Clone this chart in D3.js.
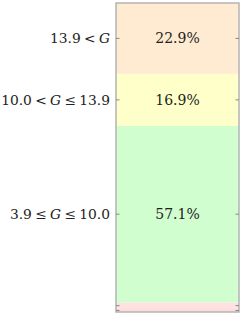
<!DOCTYPE html>
<html>
<head>
<meta charset="utf-8">
<script src="https://cdn.jsdelivr.net/npm/d3@7"></script>
<style>
  body { margin: 0; background: #fff; }
  svg text { font-family: "DejaVu Serif", "Liberation Serif", serif; fill: #222; }
</style>
</head>
<body>
<svg id="chart" width="240" height="318"></svg>
<script>
// bottom to top
var categories = ["G < 3.0", "3.0 ≤ G < 3.9", "3.9 ≤ G ≤ 10.0", "10.0 < G ≤ 13.9", "13.9 < G"];
var labels = [null, null, ["3.9", "≤", "G", "≤", "10.0"], ["10.0", "<", "G", "≤", "13.9"], ["13.9", "<", "G"]];
var shares = [1.0, 2.1, 57.1, 16.9, 22.9];
var colors = ["#ffdcdc", "#ffe1e1", "#d1fecf", "#ffffc9", "#ffebd1"];

var svg = d3.select("#chart"),
  margin = { top: 3, right: 1, bottom: 6, left: 116 },
  width = 240 - margin.left - margin.right,
  height = 318 - margin.top - margin.bottom;

var stack = [];
var acc = 0;
shares.forEach((v, i) => { stack.push({ i: i, y0: acc, y1: acc + v, v: v }); acc += v; });

var y = d3.scaleLinear().domain([0, acc]).range([margin.top + height, margin.top]);
var x = d3.scaleBand().domain(["all"]).range([margin.left, margin.left + width]).padding(0);

var g = svg.append("g");
g.selectAll("rect.seg").data(stack).join("rect").attr("class", "seg")
  .attr("x", x("all")).attr("width", x.bandwidth())
  .attr("y", d => y(d.y1)).attr("height", d => y(d.y0) - y(d.y1))
  .attr("fill", d => colors[d.i]);

// frame
svg.append("rect")
  .attr("x", margin.left).attr("y", margin.top)
  .attr("width", width).attr("height", height)
  .attr("fill", "none").attr("stroke", "#b4b4b4").attr("stroke-width", 1.5);

// ticks on both sides, pointing inward
var mids = stack.map(d => (d.y0 + d.y1) / 2);
var tick = 3.5;
svg.selectAll("line.lt").data(mids).join("line").attr("class", "lt")
  .attr("x1", margin.left).attr("x2", margin.left + tick)
  .attr("y1", d => y(d)).attr("y2", d => y(d))
  .attr("stroke", "#888").attr("stroke-width", 1);
svg.selectAll("line.rt").data(mids).join("line").attr("class", "rt")
  .attr("x1", margin.left + width - tick).attr("x2", margin.left + width)
  .attr("y1", d => y(d)).attr("y2", d => y(d))
  .attr("stroke", "#888").attr("stroke-width", 1);

// category labels, math style: italic G, wide space round relations
var lab = svg.selectAll("text.cat").data(stack.filter(d => labels[d.i])).join("text").attr("class", "cat")
  .attr("x", margin.left - 6).attr("y", d => y((d.y0 + d.y1) / 2))
  .attr("dy", "0.35em").attr("text-anchor", "end").style("font-size", "13.8px");
lab.each(function (d) {
  var t = d3.select(this), p = labels[d.i];
  p.forEach((s, k) => {
    var ts = t.append("tspan").text(s);
    if (k > 0) ts.attr("dx", "0.24em");
    if (s === "G") ts.style("font-style", "italic");
  });
});

// percentage labels
svg.selectAll("text.pct").data(stack.filter(d => d.v > 5)).join("text").attr("class", "pct")
  .attr("x", x("all") + x.bandwidth() / 2).attr("y", d => y((d.y0 + d.y1) / 2))
  .attr("dy", "0.35em").attr("text-anchor", "middle").style("font-size", "14px")
  .text(d => d.v.toFixed(1) + "%");
</script>
</body>
</html>
